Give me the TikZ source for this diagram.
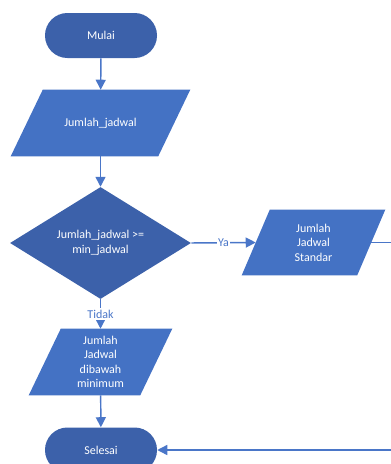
\documentclass[tikz,border=0pt]{standalone}
\usepackage{fontspec}
\setmainfont{Carlito}
\usetikzlibrary{shapes.geometric,arrows.meta}
\pgfdeclarelayer{bg}
\pgfsetlayers{bg,main}
\definecolor{termblue}{HTML}{3C61AA}
\definecolor{ioblue}{HTML}{4472C4}
\definecolor{lineblue}{HTML}{4A76C8}
\tikzset{
	terminal/.style={rectangle,rounded corners=16.8pt,fill=termblue,text=white,
		minimum width=84pt,minimum height=33.75pt,inner sep=0pt},
	io/.style={rectangle,text=white,align=center,inner sep=0pt,minimum height=49.5pt},
	decision/.style={diamond,fill=termblue,text=white,align=center,
		minimum width=135.75pt,minimum height=81pt,inner sep=0pt},
	arr/.style={draw=lineblue,line width=1.1pt,-{Triangle[length=7.5pt,width=7.5pt]}},
	conn/.style={draw=lineblue,line width=1.1pt},
	lbl/.style={fill=white,text=lineblue,inner sep=1pt}
}
% jajaran genjang di belakang node: #1 nama node, #2 setengah kemiringan
\newcommand{\genjang}[2]{%
	\begin{pgfonlayer}{bg}
		\fill[ioblue] ([xshift=#2]#1.north west) -- ([xshift=#2]#1.north east)
			-- ([xshift=-#2]#1.south east) -- ([xshift=-#2]#1.south west) -- cycle;
	\end{pgfonlayer}}
\begin{document}
\begin{tikzpicture}[x=0.75pt,y=-0.75pt,font=\fontsize{9}{10.9}\selectfont]
	\useasboundingbox (0,0) rectangle (391,464);
	\node[terminal] (mulai) at (101,35.5) {Mulai};
	\node[io,minimum width=110.25pt] (jml) at (100.5,123) {Jumlah\_jadwal};
	\node[decision] (cek) at (100.5,243) {Jumlah\_jadwal >=\\min\_jadwal};
	\node[io,minimum width=86.25pt,minimum height=48.75pt] (std) at (313.5,242.5) {Jumlah\\Jadwal\\Standar};
	\node[io,minimum width=83.25pt] (kurang) at (100.5,362) {Jumlah\\Jadwal\\dibawah\\minimum};
	\node[terminal] (selesai) at (101,450) {Selesai};
	\genjang{jml}{12pt}
	\genjang{std}{10.5pt}
	\genjang{kurang}{12pt}
	\coordinate (kanan1) at (395,242.5);
	\coordinate (kanan2) at (395,450);
	% alur utama
	\draw[arr] (mulai) -- (jml);
	\draw[arr] (jml) -- (cek);
	\draw[arr] (cek.east) -- node[lbl] {Ya} (std.west);
	\draw[arr] (cek.south) -- node[lbl] {Tidak} (kurang.north);
	\draw[arr] (kurang) -- (selesai);
	% ke kanan, lalu kembali ke selesai
	\draw[conn] (std.east) -- (kanan1);
	\draw[arr] (kanan2) -- (selesai.east);
\end{tikzpicture}
\end{document}
